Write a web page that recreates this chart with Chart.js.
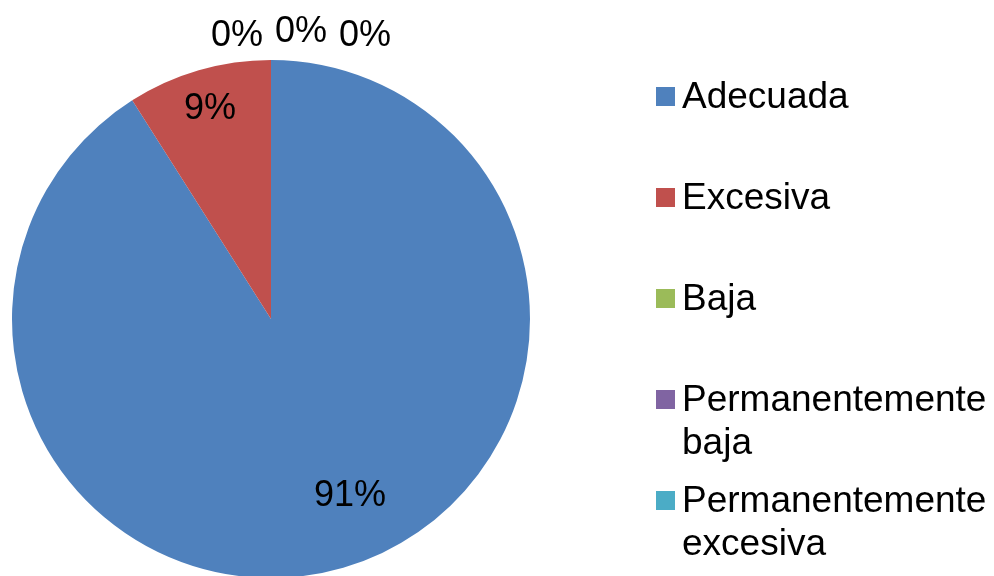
<!DOCTYPE html>
<html>
<head>
<meta charset="utf-8">
<script src="https://cdn.jsdelivr.net/npm/chart.js@4/dist/chart.umd.min.js"></script>
<style>
  html, body { margin: 0; padding: 0; background: #ffffff; }
  #wrap { width: 994px; height: 576px; position: relative; }
</style>
</head>
<body>
<div id="wrap"><canvas id="pieChart"></canvas></div>
<script>
// Categories and their share (percent)
const categories = ['Adecuada', 'Excesiva', 'Baja', 'Permanentemente baja', 'Permanentemente excesiva'];
const shares = [91, 9, 0, 0, 0];
const sliceColors = ['#4F81BD', '#C0504D', '#9BBB59', '#8064A2', '#4BACC6'];

const FONT = '"Liberation Sans", Arial, sans-serif';

// Percent labels on the slices; empty slices get stacked above the top of the pie
const sliceLabels = {
    id: 'sliceLabels',
    afterDatasetsDraw(chart) {
        const ctx = chart.ctx;
        const meta = chart.getDatasetMeta(0);
        const values = chart.data.datasets[0].data;
        const total = values.reduce((a, b) => a + b, 0);
        ctx.save();
        ctx.font = '36px ' + FONT;
        ctx.fillStyle = '#000';
        ctx.textAlign = 'center';
        ctx.textBaseline = 'middle';
        let zeroCount = 0;
        meta.data.forEach((arc, i) => {
            const pct = Math.round(values[i] / total * 100) + '%';
            const mid = (arc.startAngle + arc.endAngle) / 2;
            if (values[i] === 0) {
                // spread the empty ones side by side above the pie
                const x = arc.x - 34 + 64 * zeroCount;
                const y = arc.y - arc.outerRadius - 24 - (zeroCount % 2 ? 4 : 0);
                ctx.fillText(pct, x, y);
                zeroCount++;
                return;
            }
            const big = values[i] / total > 0.5;
            const r = arc.outerRadius * (big ? 0.76 : 0.845);
            let x = arc.x + Math.cos(mid) * r;
            let y = arc.y + Math.sin(mid) * r;
            if (big) { x += 24; y -= 12; }
            ctx.fillText(pct, x, y);
        });
        ctx.restore();
    }
};

// Legend on the right, long names wrapped onto a second line
const sideLegend = {
    id: 'sideLegend',
    afterDraw(chart) {
        const ctx = chart.ctx;
        const left = 656, textX = 682, firstBase = 108, rowStep = 101, lineStep = 43;
        const maxW = chart.width - textX - 2;
        ctx.save();
        ctx.font = '37px ' + FONT;
        ctx.textBaseline = 'alphabetic';
        ctx.textAlign = 'left';
        chart.data.labels.forEach((label, i) => {
            const base = firstBase + rowStep * i;
            ctx.fillStyle = sliceColors[i];
            ctx.fillRect(left, base - 21, 19, 19);
            // simple word wrap
            const words = label.split(' ');
            const lines = [];
            let line = '';
            words.forEach(w => {
                const test = line ? line + ' ' + w : w;
                if (line && ctx.measureText(test).width > maxW) {
                    lines.push(line);
                    line = w;
                } else {
                    line = test;
                }
            });
            lines.push(line);
            ctx.fillStyle = '#000';
            lines.forEach((l, j) => ctx.fillText(l, textX, base + lineStep * j));
        });
        ctx.restore();
    }
};

const ctx = document.getElementById('pieChart').getContext('2d');
new Chart(ctx, {
    type: 'pie',
    data: {
        labels: categories,
        datasets: [{
            data: shares,
            backgroundColor: sliceColors,
            borderWidth: 0,
            radius: 259,
        }]
    },
    options: {
        responsive: true,
        maintainAspectRatio: false,
        animation: false,
        layout: {
            padding: { left: 0, right: 452, top: 62, bottom: 0 }
        },
        plugins: {
            legend: { display: false },
            tooltip: { enabled: false },
        },
    },
    plugins: [sliceLabels, sideLegend]
});
</script>
</body>
</html>
